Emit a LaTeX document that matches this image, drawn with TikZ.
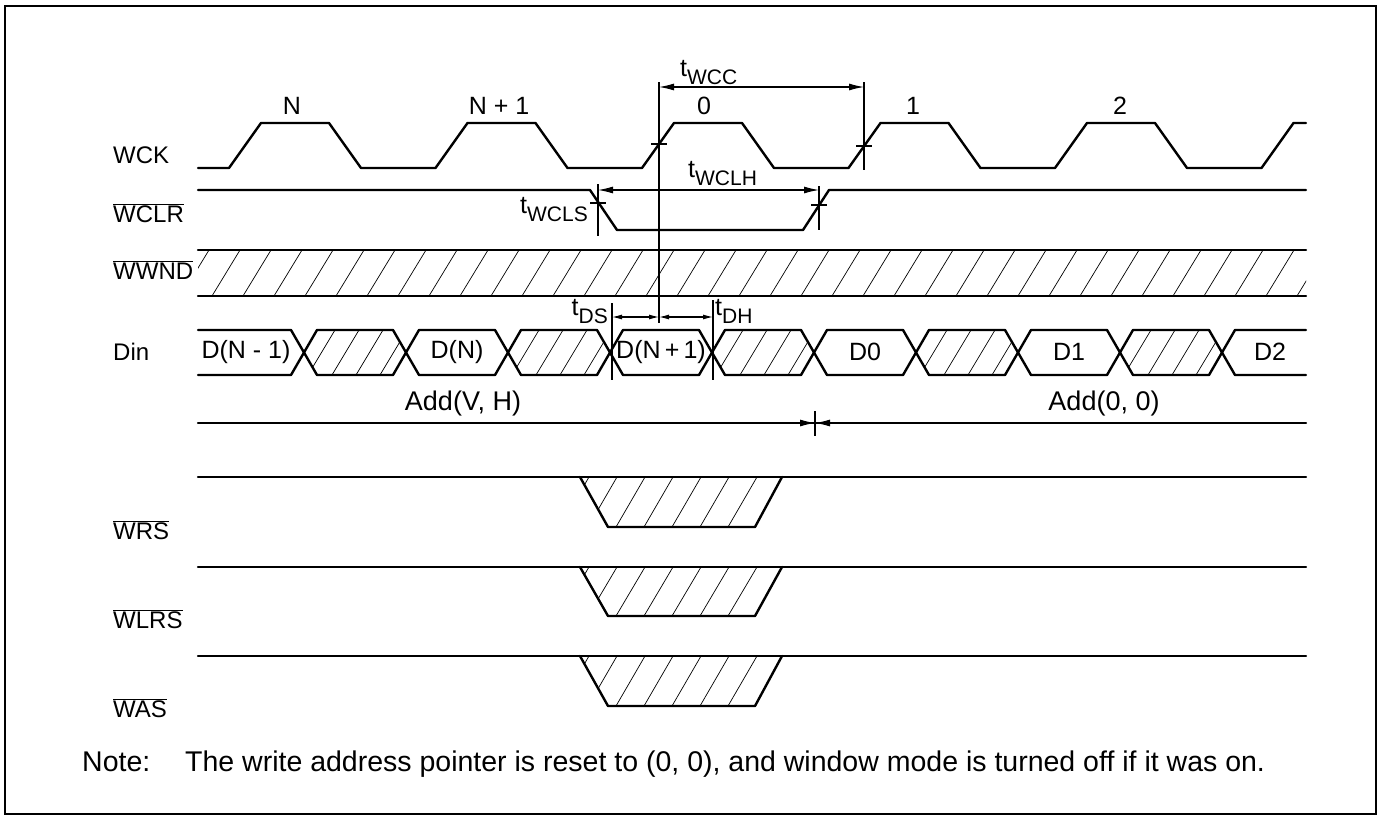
\documentclass[tikz,border=0pt]{standalone}
\usepackage{fontspec}
\setmainfont{Liberation Sans}
\usetikzlibrary{arrows.meta}
\newcommand{\tsb}[1]{t\raisebox{-8pt}{\fontsize{21}{21}\selectfont #1}}
\newcommand{\ovl}[1]{$\overline{\hbox{#1}}$}
\tikzset{
  wave/.style={line width=2.4pt, line join=round, line cap=round},
  dimln/.style={line width=1.1pt},
  hatchln/.style={line width=0.7pt},
  arr/.style={-{Latex[length=15pt,width=7pt]}, line width=1.1pt},
  darr/.style={{Latex[length=15pt,width=7pt]}-{Latex[length=15pt,width=7pt]}, line width=1.1pt},
  sarr/.style={{Latex[length=10pt,width=5pt]}-{Latex[length=10pt,width=5pt]}, line width=1.1pt},
  lbl/.style={font=\fontsize{24}{28}\selectfont, inner sep=0pt, anchor=west},
  txt/.style={font=\fontsize{25}{30}\selectfont, inner sep=0pt},
  addtxt/.style={font=\fontsize{27}{30}\selectfont, inner sep=0pt},
  tm/.style={font=\fontsize{25}{30}\selectfont, inner sep=0pt},
  notetxt/.style={font=\fontsize{28.5}{32}\selectfont, inner sep=0pt, anchor=base west},
}
\begin{document}
\begin{tikzpicture}[x=1pt,y=-1pt]
\useasboundingbox (0,0) rectangle (1378,816);
% frame
\draw[line width=1.5pt] (5,6) rectangle (1376,814);

% signal labels
\node[lbl] (lwck) at (113,155) {WCK};
\node[lbl] (lwclr) at (113,213) {\ovl{WCLR}};
\node[lbl] (lwwnd) at (113,270) {\ovl{WWND}};
\node[lbl] (ldin) at (113,352) {Din};
\node[lbl] (lwrs) at (113,530) {\ovl{WRS}};
\node[lbl] (lwlrs) at (113,619) {\ovl{WLRS}};
\node[lbl] (lwas) at (113,708) {\ovl{WAS}};

% WCK
\draw[wave] (198,168) -- (229,168) -- (261,123) -- (329,123) -- (361,168)
  -- (435.5,168) -- (467.5,123) -- (535.5,123) -- (567.5,168)
  -- (642,168) -- (674,123) -- (742,123) -- (774,168)
  -- (848.5,168) -- (880.5,123) -- (948.5,123) -- (980.5,168)
  -- (1055,168) -- (1087,123) -- (1155,123) -- (1187,168)
  -- (1261.5,168) -- (1293.5,123) -- (1306,123);
\node[txt] (pn) at (292,106) {N};
\node[txt] (pn1) at (499,106) {N + 1};
\node[txt] (p0) at (704,106) {0};
\node[txt] (p1) at (913,106) {1};
\node[txt] (p2) at (1120,106) {2};

% WCLR
\draw[wave] (198,190) -- (590,190) -- (617,230) -- (803,230) -- (829,190) -- (1306,190);

% WWND
\begin{scope}
  \clip (198,250) rectangle (1306,296);
  \foreach \x in {150,181,...,1320} \draw[hatchln] (\x,296) -- ({\x+28},250);
\end{scope}
\draw[wave] (198,250) -- (1306,250);
\draw[wave] (198,296) -- (1306,296);

% Din hatched cells
\foreach \a/\b in {304/406,508/610,712/814,916/1018,1120/1222}{
  \begin{scope}
    \clip (\a,352.5) -- ({\a+13},330) -- ({\b-13},330) -- (\b,352.5) -- ({\b-13},375) -- ({\a+13},375) -- cycle;
    \foreach \x in {-20,4,...,110} \draw[hatchln] ({\a+\x},375) -- ({\a+\x+27},330);
  \end{scope}
  \draw[wave] (\a,352.5) -- ({\a+13},330) -- ({\b-13},330) -- (\b,352.5) -- ({\b-13},375) -- ({\a+13},375) -- cycle;
}
\foreach \a/\b in {406/508,610/712,814/916,1018/1120}{
  \draw[wave] (\a,352.5) -- ({\a+13},330) -- ({\b-13},330) -- (\b,352.5) -- ({\b-13},375) -- ({\a+13},375) -- cycle;
}
\draw[wave] (198,330) -- (291,330) -- (304,352.5) -- (291,375) -- (198,375);
\draw[wave] (1306,330) -- (1235,330) -- (1222,352.5) -- (1235,375) -- (1306,375);
\node[txt] (dnm1) at (246,352) {D(N - 1)};
\node[txt] (dn) at (457,352) {D(N)};
\node[txt] (dn1) at (661,352) {D(N\,+\,1)};
\node[txt] (d0) at (865,352) {D0};
\node[txt] (d1) at (1069,352) {D1};
\node[txt] (d2) at (1270,352) {D2};

% Address line
\draw[wave] (198,423) -- (1306,423);
\node[addtxt] (avh) at (463,404) {Add(V, H)};
\node[addtxt] (a00) at (1104,404) {Add(0, 0)};
\coordinate (am) at (815,423);
\draw[dimln] (815,411) -- (815,436);
\draw[arr] (785,423) -- (am);
\draw[arr] (845,423) -- (am);

% WRS, WLRS, WAS
\foreach \h/\b in {477/527,567/616,656/706}{
  \begin{scope}
    \clip (580,\h) -- (608,\b) -- (755,\b) -- (782,\h) -- cycle;
    \foreach \x in {560,588,...,800} \draw[hatchln] (\x,\b) -- ({\x+29},\h);
  \end{scope}
  \draw[wave] (198,\h) -- (1306,\h);
  \draw[wave] (580,\h) -- (608,\b) -- (755,\b) -- (782,\h);
}

% tWCC
\draw[dimln] (659,82) -- (659,323);
\draw[dimln] (864,82) -- (864,170);
\draw[darr] (659,87) -- (864,87);
\draw[dimln] (651,144) -- (667,144);
\draw[dimln] (856,146) -- (872,146);
\node[tm, anchor=base west] (twcc) at (680,77) {\tsb{WCC}};

% tWCLS / tWCLH
\draw[dimln] (598,184) -- (598,236);
\draw[dimln] (590,203) -- (606,203);
\draw[dimln] (819,186) -- (819,230);
\draw[dimln] (811,205) -- (827,205);
\draw[darr] (598,190) -- (819,190);
\node[tm, anchor=base east] (twcls) at (588,213) {\tsb{WCLS}};
\node[tm, anchor=base west] (twclh) at (688,177) {\tsb{WCLH}};

% tDS / tDH
\draw[dimln] (612,303) -- (612,380);
\draw[dimln] (713,300) -- (713,380);
\draw[sarr] (612,317) -- (659,317);
\draw[sarr] (659,317) -- (713,317);
\node[tm, anchor=base east] (tds) at (608,315) {\tsb{DS}};
\node[tm, anchor=base west] (tdh) at (715,315) {\tsb{DH}};

% Note
\node[notetxt] (note) at (82,771) {Note:};
\node[notetxt] (notetext) at (185,771) {The write address pointer is reset to (0, 0), and window mode is turned off if it was on.};
\end{tikzpicture}
\end{document}
